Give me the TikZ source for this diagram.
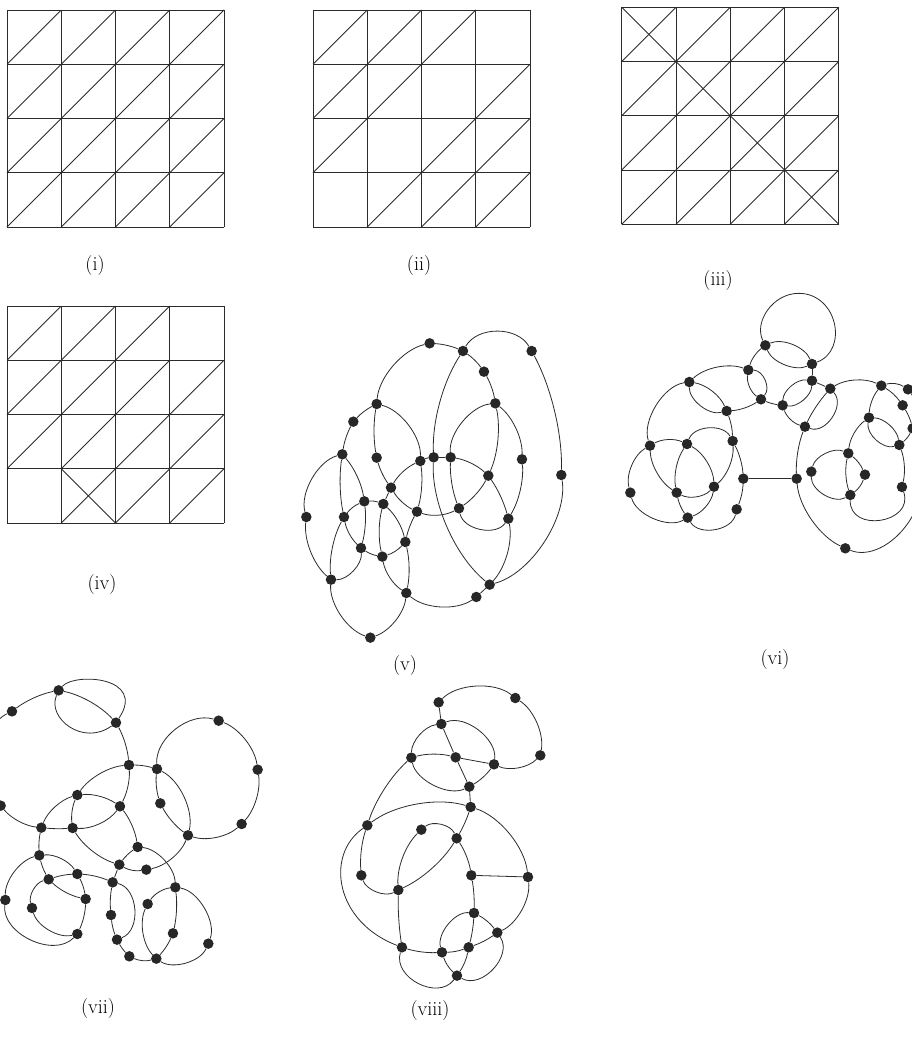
\documentclass[tikz,border=0pt]{standalone}
\usetikzlibrary{positioning}
\definecolor{ink}{HTML}{2B2B2B}
\tikzset{
  vertex/.style={circle, fill=ink!90!black, draw=none, inner sep=0pt, minimum size=10.5pt},
  edge_line/.style={line width=0.8pt, ink, looseness=0.78},
  mesh_line/.style={line width=0.9pt, ink},
  panel_label/.style={font=\fontsize{20}{22}\selectfont, text=black},
  crop_view/.style={x=0.3333pt, y=-0.3333pt},
  mesh_grid/.pic={
    \foreach \i in {0,...,4} {
      \draw[mesh_line] (\i,0) -- (\i,4);
      \draw[mesh_line] (0,\i) -- (4,\i);
    }
  }
}

\begin{document}
\begin{tikzpicture}[x=1pt, y=-1pt]

  \clip (0,0) rectangle (912,1047);

  % Mesh (i)
  \begin{scope}[shift={(7,10)}, x=54.25pt, y=-54.25pt]
    \pic {mesh_grid};
    \foreach \c in {0,...,3} \foreach \r in {0,...,3}
      \draw[mesh_line] (\c,\r+1) -- (\c+1,\r);
  \end{scope}

  % Mesh (ii)
  \begin{scope}[shift={(313,10)}, x=54.25pt, y=-54.25pt]
    \pic {mesh_grid};
    \foreach \c/\r in {0/0,1/0,2/0,0/1,1/1,3/1,0/2,2/2,3/2,1/3,2/3,3/3}
      \draw[mesh_line] (\c,\r+1) -- (\c+1,\r);
  \end{scope}

  % Mesh (iii)
  \begin{scope}[shift={(621.7,7.3)}, x=54.25pt, y=-54.25pt]
    \pic {mesh_grid};
    \foreach \c in {0,...,3} {
      \draw[mesh_line] (\c,\c) -- (\c+1,\c+1);
      \foreach \r in {0,...,3}
        \draw[mesh_line] (\c,\r+1) -- (\c+1,\r);
    }
  \end{scope}

  % Mesh (iv)
  \begin{scope}[shift={(7,306)}, x=54.25pt, y=-54.25pt]
    \pic {mesh_grid};
    \draw[mesh_line] (1,3) -- (2,4);
    \foreach \c/\r in {0/0,1/0,2/0,0/1,1/1,2/1,3/1,0/2,1/2,2/2,3/2,1/3,2/3,3/3}
      \draw[mesh_line] (\c,\r+1) -- (\c+1,\r);
  \end{scope}

  % Graph (v)
  \begin{scope}[shift={(295,325)}, crop_view]
    \foreach \n/\x/\y in {a/404/55,b/504/78,c/710/78,d/567/140,e/601/235,f/245/237,g/175/290,h/142/388,
      i/245/398,j/376/408,k/416/397,l/467/397,m/681/403,n/799/450,o/580/452,p/288/488,q/208/529,r/265/537,
      s/366/560,t/492/550,u/34/576,v/147/576,w/640/581,x/331/651,y/198/669,z/262/695,A/108/764,B/584/779,
      C/544/816,D/334/804,E/226/938}
      \node[vertex] (five-\n) at (\x,\y) {};
    \foreach \s/\t/\b in {h/g/10,g/f/10,f/a/36,a/b/10,b/d/10,d/e/10,e/m/27,m/w/18,l/t/-12,e/l/-44,e/o/18,
      l/o/17,o/t/14,o/w/10,w/B/27,t/s/24,p/s/-16,p/j/18,j/k/10,k/l/0,k/B/-27,k/b/18,c/n/15,n/B/42,B/C/0,
      C/D/38,D/z/24,z/r/14,r/x/18,x/D/13,D/E/33,E/A/38,A/u/28,u/h/45,h/v/-10,h/q/16,v/A/-17,v/q/15,q/r/12,
      r/p/0,q/y/11,y/A/48,v/y/-18,y/z/-12,z/x/-15,x/s/8,s/j/-12,j/f/-39,f/i/-10,i/p/-10}
      \draw[edge_line] (five-\s) to[bend left=\b] (five-\t);
    \foreach \s/\t/\b/\l in {t/w/-67/0.91,b/c/60/0.95}
      \draw[edge_line] (five-\s) to[bend left=\b, looseness=\l] (five-\t);
  \end{scope}

  % Graph (vi)
  \begin{scope}[shift={(620,285)}, crop_view]
    \foreach \n/\x/\y in {a/436/181,b/576/237,c/385/255,d/576/287,e/631/311,f/208/291,g/423/343,h/488/361,
      i/320/378,j/555/425,k/784/302,l/864/313,m/848/361,n/878/430,o/747/398,p/838/480,q/338/468,r/90/482,
      s/201/477,t/685/505,u/574/560,v/735/569,w/370/581,x/530/581,y/282/605,z/846/606,A/31/623,B/170/623,
      C/691/630,D/350/673,E/203/698,F/676/790}
      \node[vertex] (six-\n) at (\x,\y) {};
    % Upper circle
    \draw[edge_line] (six-a) .. controls (401,112) and (458,25) .. (536,25)
      .. controls (653,25) and (686,196) .. (six-b);
    \draw[edge_line] (six-F) .. controls (800,840) and (980,650) .. (six-n);
    \foreach \s/\t/\b in {a/b/46,a/b/-46,a/c/-18,b/d/0,c/f/-32,c/g/-32,f/i/29,i/g/-15,g/h/-8,h/d/48,h/d/-48,
      d/e/0,e/j/-8,h/j/-28,e/k/29,k/l/25,l/n/30,k/m/12,m/n/8,k/o/-18,o/p/40,o/t/-24,t/u/-50,t/v/15,t/C/-16,
      v/C/18,z/p/-17,p/n/-12,x/j/12,w/q/-12,q/i/-10,w/D/10,E/A/53,A/r/38,r/f/50,r/s/27,r/B/-28,s/y/30,s/B/-23,
      q/y/27,B/y/-37,B/E/-12,E/y/-32,w/x/0,x/F/-30}
      \draw[edge_line] (six-\s) to[bend left=\b] (six-\t);
    \foreach \s/\t/\b/\l in {c/g/65/0.9,f/i/-53/0.8,e/j/76/1.0,o/p/-58/0.83,u/C/-60/0.85,C/z/-100/1.55,D/E/68/0.92,s/q/65/0.9}
      \draw[edge_line] (six-\s) to[bend left=\b, looseness=\l] (six-\t);
  \end{scope}

  % Graph (vii)
  \begin{scope}[shift={(0,675)}, crop_view]
    \foreach \n/\x/\y in {a/176/46,b/36/109,c/348/143,d/387/270,e/471/282,f/656/137,g/773/284,h/232/360,
      i/360/394,j/481/385,k/725/447,l/2/392,m/124/458,n/218/459,o/564/481,p/413/516,q/358/569,r/439/584,
      s/118/541,t/232/597,u/146/613,v/338/622,w/526/637,x/257/672,y/16/675,z/96/699,A/443/687,B/333/720,
      C/519/775,D/232/777,E/351/794,F/625/806,G/388/844,H/469/851}
      \node[vertex] (seven-\n) at (\x,\y) {};
    % Loop over the top pair
    \draw[edge_line] (seven-a) .. controls (225,-8) and (440,5) .. (seven-c);
    \draw[edge_line] (seven-a) .. controls (140,130) and (250,215) .. (seven-c);
    \foreach \s/\t/\b in {a/b/-13,l/m/-22,a/c/18,c/d/12,d/e/8,d/h/-25,d/i/16,f/g/31,g/k/26,k/o/30,e/o/39,
      e/j/-12,j/o/-13,h/i/20,h/m/-26,h/n/-16,m/n/-5,n/i/-29,i/p/15,n/q/-21,m/s/-8,s/y/-38,t/x/10,x/D/12,
      s/t/31,s/u/-8,u/t/8,t/v/10,u/x/-16,u/z/-46,z/D/-44,q/p/10,q/r/-20,r/o/-29,q/v/0,p/w/41,v/B/-8,B/E/-8,
      E/G/-8,G/H/-20,w/A/-25,A/H/-35,w/C/10,C/H/10,w/F/51}
      \draw[edge_line] (seven-\s) to[bend left=\b] (seven-\t);
    \foreach \s/\t/\b/\l in {b/l/-58/0.83,e/f/55/0.9,y/D/-71/0.96,v/E/73/0.98,F/H/50/0.78}
      \draw[edge_line] (seven-\s) to[bend left=\b, looseness=\l] (seven-\t);
  \end{scope}

  % Graph (viii)
  \begin{scope}[shift={(335,675)}, crop_view]
    \foreach \n/\x/\y in {a/311/82,b/541/69,c/319/147,d/616/241,e/229/248,f/362/247,g/477/268,h/403/335,
      i/407/396,j/97/451,k/259/464,l/365/490,m/79/601,n/409/601,o/579/606,p/190/645,q/417/714,r/487/773,
      s/201/817,t/321/832,u/401/817,v/366/902}
      \node[vertex] (eight-\n) at (\x,\y) {};
    % Outer arc on the left
    \draw[edge_line] (eight-j) .. controls (-30,540) and (0,740) .. (eight-s);
    \foreach \s/\t/\b in {a/b/42,b/d/34,d/g/35,a/c/0,c/f/0,f/h/0,c/e/-41,e/f/15,f/g/0,g/h/12,h/i/0,e/j/-15,
      j/i/27,i/o/33,i/l/6,k/p/-25,l/p/17,l/n/12,n/o/0,n/q/6,j/m/-12,m/p/-50,p/s/-5,s/t/-10,t/u/-10,u/r/-8,
      r/o/-36,q/r/13,q/u/6,t/v/-15,u/v/12}
      \draw[edge_line] (eight-\s) to[bend left=\b] (eight-\t);
    \foreach \s/\t/\b/\l in {c/g/60/0.85,e/h/-52/0.78,k/l/53/0.8,q/t/-55/0.8,v/r/-77/1.03,s/v/-80/1.12}
      \draw[edge_line] (eight-\s) to[bend left=\b, looseness=\l] (eight-\t);
  \end{scope}

  % Panel labels
  \node[panel_label] (label_i) at (95,266) {(i)};
  \node[panel_label] (label_ii) at (419,266) {(ii)};
  \node[panel_label] (label_iii) at (718,281) {(iii)};
  \node[panel_label] (label_iv) at (102,585) {(iv)};
  \node[panel_label] (label_v) at (405,665) {(v)};
  \node[panel_label] (label_vi) at (775,660) {(vi)};
  \node[panel_label] (label_vii) at (98,1008) {(vii)};
  \node[panel_label] (label_viii) at (430,1010) {(viii)};

\end{tikzpicture}
\end{document}
